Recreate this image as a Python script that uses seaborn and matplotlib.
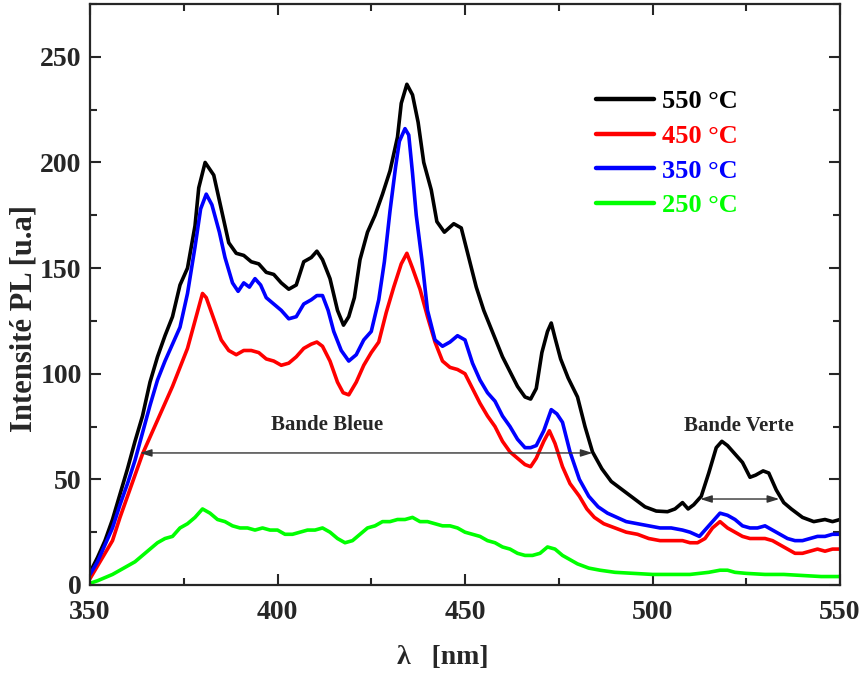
import numpy as np
import pandas as pd
import matplotlib
matplotlib.use("Agg")
import matplotlib.pyplot as plt
import seaborn as sns

# ---------------- data ----------------
series_labels = ["550 °C", "450 °C", "350 °C", "250 °C"]
series_colors = ["#000000", "#ff0000", "#0000ff", "#00ff00"]

x_550 = [350, 352, 354, 356, 358, 360, 362, 364, 366, 368, 370, 372, 374, 376, 378, 379, 380.7, 383, 385, 387,
         389, 391, 393, 395, 397, 399, 401, 403, 405, 407, 409, 410.5, 412, 414, 416, 417.6, 419, 420.5, 422, 424,
         426, 428, 430, 432, 433, 434.5, 436, 437.5, 439, 441, 442.5, 444.5, 447, 449, 451, 453, 455, 457.5, 460, 462,
         464, 466, 467.5, 469, 470.5, 472, 473, 474, 475.5, 477.5, 480, 482, 484, 486.5, 489, 492, 495, 498, 501, 504,
         506, 508, 509.5, 511, 513, 515, 517, 518.5, 520, 522, 524, 526, 527.5, 529.5, 531, 533, 535, 537, 540, 543,
         546, 548, 550]
y_550 = [6, 13, 21, 31, 43, 55, 68, 80, 96, 108, 118, 127, 142, 150, 170, 188, 200, 194, 178, 162,
         157, 156, 153, 152, 148, 147, 143, 140, 142, 153, 155, 158, 154, 145, 130, 123, 127, 136, 154, 167,
         175, 185, 196, 212, 228, 237, 232, 219, 200, 187, 172, 167, 171, 169, 155, 141, 130, 119, 108, 101,
         94, 89, 88, 93, 110, 120, 124, 117, 107, 98, 89, 75, 63, 55, 49, 45, 41, 37, 35, 34.7,
         36, 39, 36, 38, 42, 53, 65, 68, 66, 62, 58, 51, 52, 54, 53, 45, 39, 36, 32, 30,
         31, 30, 31]

x_450 = [350, 352, 354, 356, 358, 360, 362, 364, 366, 368, 370, 372, 374, 376, 378, 380, 381, 383, 385, 387,
         389, 391, 393, 395, 397, 399, 401, 403, 405, 407, 409, 410.5, 412, 414, 416, 417.5, 419, 421, 423, 425,
         427, 429, 431, 433, 434.5, 436, 438, 440, 442, 444, 446, 448, 450, 452, 454, 456, 458, 460, 462, 464,
         466, 467.5, 469, 471, 472.5, 474, 476, 478, 480.5, 482.5, 484.5, 487, 490, 493, 496, 499, 502, 505, 508, 510,
         512, 514, 516, 518, 520, 522, 524, 526, 528, 530, 532, 534, 536, 538, 540, 542, 544, 546, 548, 550]
y_450 = [3, 9, 15, 21, 32, 42, 52, 62, 70, 78, 86, 94, 103, 112, 125, 138, 136, 126, 116, 111,
         109, 111, 111, 110, 107, 106, 104, 105, 108, 112, 114, 115, 113, 106, 96, 91, 90, 96, 104, 110,
         115, 129, 141, 152, 157, 150, 140, 127, 115, 106, 103, 102, 100, 93, 86, 80, 75, 68, 63, 60,
         57, 56, 60, 68, 73, 67, 56, 48, 42, 36, 32, 29, 27, 25, 24, 22, 21, 21, 21, 20,
         20, 22, 27, 30, 27, 25, 23, 22, 22, 22, 21, 19, 17, 15, 15, 16, 17, 16, 17, 17]

x_350 = [350, 352, 354, 356, 358, 360, 362, 364, 366, 368, 370, 372, 374, 376, 378, 379.5, 381, 382.5, 384.5, 386,
         388, 389.5, 391, 392.5, 394, 395.5, 397, 399, 401, 403, 405, 407, 409, 410.5, 412, 413.5, 415, 417, 419, 421,
         423, 425, 427, 428.5, 430, 431.5, 432.5, 434, 435, 436, 437, 438.5, 440, 442, 444, 446, 448, 450, 452, 454,
         456, 458, 460, 462, 464, 466, 467.5, 469, 471, 473, 474.5, 476, 478, 480.5, 483, 485.5, 488, 490.5, 493, 496,
         499, 502, 505, 508, 510, 512.5, 514.5, 516.5, 518, 520, 522, 524, 526, 528, 530, 532, 534, 536, 538, 540,
         542, 544, 546, 548, 550]
y_350 = [5, 11, 19, 27, 38, 48, 59, 72, 85, 97, 106, 114, 122, 138, 160, 178, 185, 180, 167, 155,
         143, 139, 143, 141, 145, 142, 136, 133, 130, 126, 127, 133, 135, 137, 137, 130, 120, 111, 106, 109,
         116, 120, 135, 153, 177, 198, 210, 216, 213, 195, 175, 154, 130, 116, 113, 115, 118, 116, 105, 97,
         91, 87, 80, 75, 69, 65, 65, 66, 73, 83, 81, 77, 63, 50, 42, 37, 34, 32, 30, 29,
         28, 27, 27, 26, 25, 23, 27, 31, 34, 33, 31, 28, 27, 27, 28, 26, 24, 22, 21, 21,
         22, 23, 23, 24, 24]

x_250 = [350, 352, 354, 356, 358, 360, 362, 364, 366, 368, 370, 372, 374, 376, 378, 380, 382, 384, 386, 388,
         390, 392, 394, 396, 398, 400, 402, 404, 406, 408, 410, 412, 414, 416, 418, 420, 422, 424, 426, 428,
         430, 432, 434, 436, 438, 440, 442, 444, 446, 448, 450, 452, 454, 456, 458, 460, 462, 464, 466, 468,
         470, 472, 474, 476, 478, 480, 483, 486, 490, 495, 500, 505, 510, 515, 518, 520, 522, 525, 530, 535,
         540, 545, 550]
y_250 = [0.8, 2, 3.5, 5, 7, 9, 11, 14, 17, 20, 22, 23, 27, 29, 32, 36, 34, 31, 30, 28,
         27, 27, 26, 27, 26, 26, 24, 24, 25, 26, 26, 27, 25, 22, 20, 21, 24, 27, 28, 30,
         30, 31, 31, 32, 30, 30, 29, 28, 28, 27, 25, 24, 23, 21, 20, 18, 17, 15, 14, 14,
         15, 18, 17, 14, 12, 10, 8, 7, 6, 5.5, 5, 5, 5, 6, 7, 7, 6, 5.5, 5, 5,
         4.5, 4, 4]

x_ticks = [350, 400, 450, 500, 550]
y_ticks = [0, 50, 100, 150, 200, 250]

band_labels = ["Bande Bleue", "Bande Verte"]
band_start = [363.3, 512.7]
band_end = [484.0, 533.8]
band_level = [62.5, 40.7]
band_text_pos = [(413.2, 75.7), (522.9, 75.3)]

# ---------------- figure ----------------
sns.set_style("ticks")
plt.rcParams["font.family"] = ["Liberation Serif", "DejaVu Serif"]
plt.rcParams["font.weight"] = "bold"

frames = []
for lab, xs, ys in zip(series_labels, [x_550, x_450, x_350, x_250], [y_550, y_450, y_350, y_250]):
    frames.append(pd.DataFrame({"x": xs, "y": ys, "series": lab}))
df = pd.concat(frames, ignore_index=True)

fig = plt.figure(figsize=(8.61, 6.74), dpi=100)
ax = fig.add_axes([90 / 861, 89 / 674, 750 / 861, 581 / 674])

sns.lineplot(data=df, x="x", y="y", hue="series", hue_order=series_labels,
             palette=dict(zip(series_labels, series_colors)), estimator=None,
             linewidth=2.6, ax=ax, legend=True)

ax.set_xlim(350, 550)
ax.set_ylim(0, 275)
ax.set_xticks(x_ticks)
ax.set_yticks(y_ticks)
ax.xaxis.set_minor_locator(matplotlib.ticker.MultipleLocator(25))
ax.yaxis.set_minor_locator(matplotlib.ticker.MultipleLocator(25))
ax.tick_params(which="both", direction="in", top=True, right=True, width=1.5)
ax.tick_params(which="major", length=8, labelsize=20)
ax.tick_params(which="minor", length=5)
ax.tick_params(axis="x", which="major", pad=11)
ax.tick_params(axis="y", which="major", pad=6)
for lbl in ax.get_xticklabels() + ax.get_yticklabels():
    lbl.set_fontweight("bold")
for sp in ax.spines.values():
    sp.set_linewidth(1.6)

ax.set_xlabel("λ   [nm]", fontsize=20, fontweight="bold")
ax.set_ylabel("Intensité PL [u.a]", fontsize=22, fontweight="bold")
ax.xaxis.set_label_coords((443 - 90) / 750, -0.103)
ax.yaxis.set_label_coords(-0.068, (585 - 318) / 581)

# legend
handles, labels = ax.get_legend_handles_labels()
leg = ax.legend(handles, labels, loc="upper left", bbox_to_anchor=(0.643, 0.893),
                frameon=False, handlelength=2.2, handletextpad=0.3,
                labelspacing=0.42, labelcolor="linecolor", prop={"weight": "bold", "size": 19})
for h in leg.get_lines():
    h.set_linewidth(3.2)

# band annotations
for lab, x0, x1, lvl, tp in zip(band_labels, band_start, band_end, band_level, band_text_pos):
    ax.annotate("", xy=(x0, lvl), xytext=(x1, lvl),
                arrowprops=dict(arrowstyle="<|-|>,head_length=0.7,head_width=0.22",
                                color="#333333", lw=1.0, shrinkA=0, shrinkB=0))
    ax.text(tp[0], tp[1], lab, ha="center", va="center", fontsize=15, fontweight="bold")

fig.savefig("out.png", dpi=100)
